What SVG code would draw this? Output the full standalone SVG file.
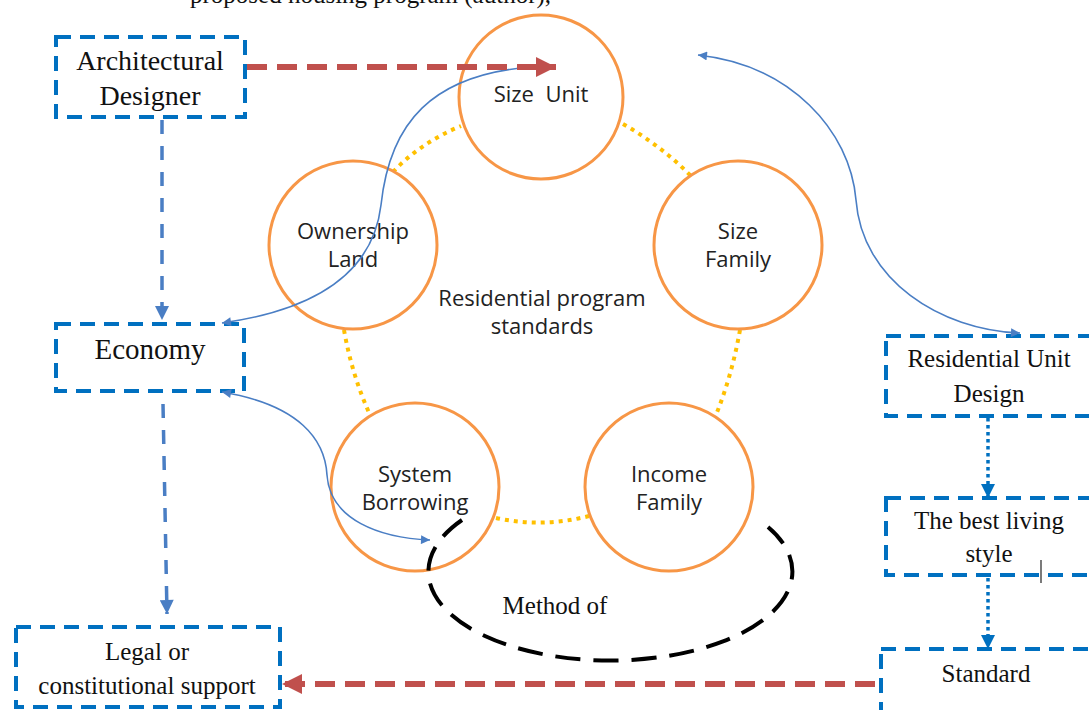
<svg xmlns="http://www.w3.org/2000/svg" width="1089" height="710" viewBox="0 0 1089 710">
<style>
.box{fill:none;stroke:#0070C0;stroke-width:4;stroke-dasharray:15 9}
.serif{font-family:"Liberation Serif","Times New Roman",serif;fill:#111;text-anchor:middle}
.circ{fill:#fff;stroke:#F79646;stroke-width:3}
.ctext{font-family:"Open Sans","Liberation Sans",sans-serif;font-size:22px;fill:#222;text-anchor:middle}
.dot{fill:none;stroke:#FFC000;stroke-width:4;stroke-dasharray:4 5}
.thin{fill:none;stroke:#4A7EC4;stroke-width:1.6}
.red{fill:none;stroke:#C0504D;stroke-width:6;stroke-dasharray:20 10}
.bdash{fill:none;stroke:#4A7EC4;stroke-width:3.5;stroke-dasharray:14 12}
.bdot{fill:none;stroke:#0070C0;stroke-width:3.5;stroke-dasharray:3.5 3.5}
</style>
<defs>
<marker id="hb" viewBox="0 0 10 10" refX="10" refY="5" markerWidth="10" markerHeight="9" markerUnits="userSpaceOnUse" orient="auto-start-reverse">
<path d="M0 0L10 5L0 10z" fill="#4A7EC4"/></marker>
<marker id="hbb" viewBox="0 0 10 10" refX="10" refY="5" markerWidth="16" markerHeight="14" markerUnits="userSpaceOnUse" orient="auto">
<path d="M0 0L10 5L0 10z" fill="#4A7EC4"/></marker>
<marker id="hd" viewBox="0 0 10 10" refX="10" refY="5" markerWidth="14" markerHeight="14" markerUnits="userSpaceOnUse" orient="auto">
<path d="M0 0L10 5L0 10z" fill="#0070C0"/></marker>
<marker id="hr" viewBox="0 0 10 10" refX="10" refY="5" markerWidth="22" markerHeight="20" markerUnits="userSpaceOnUse" orient="auto">
<path d="M0 0L10 5L0 10z" fill="#C0504D"/></marker>
</defs>
<rect width="1089" height="710" fill="#fff"/>
<text x="190" y="3" font-family="Liberation Serif, serif" font-size="25" fill="#111">proposed housing program (author),</text>

<g id="cycle-links">
<path class="dot" d="M393 172 Q420 143 461 126"/>
<path class="dot" d="M623 124 Q660 145 690 175"/>
<path class="dot" d="M344 330 Q352 375 370 415"/>
<path class="dot" d="M740 330 Q732 375 716 415"/>
<path class="dot" d="M496 518 Q543 528 589 516"/>
</g>

<g id="size-unit"><circle class="circ" cx="541" cy="97" r="82"/><text class="ctext" x="541" y="102" xml:space="preserve">Size  Unit</text></g>
<g id="ownership-land"><circle class="circ" cx="353" cy="245" r="84"/><text class="ctext" x="353" y="239">Ownership</text><text class="ctext" x="353" y="267">Land</text></g>
<g id="size-family"><circle class="circ" cx="738" cy="245" r="84"/><text class="ctext" x="738" y="239">Size</text><text class="ctext" x="738" y="267">Family</text></g>
<g id="system-borrowing"><circle class="circ" cx="415" cy="487" r="84"/><text class="ctext" x="415" y="482">System</text><text class="ctext" x="415" y="510">Borrowing</text></g>
<g id="income-family"><circle class="circ" cx="669" cy="487" r="84"/><text class="ctext" x="669" y="482">Income</text><text class="ctext" x="669" y="510">Family</text></g>
<g id="center-label"><text class="ctext" x="542" y="306">Residential program</text><text class="ctext" x="542" y="334">standards</text></g>

<g id="method-of">
<path d="M462 520 A182 89 0 1 0 768 527" fill="none" stroke="#000" stroke-width="4" stroke-dasharray="25 13"/>
<text class="serif" x="555" y="614" font-size="25">Method of</text>
</g>

<g id="architectural-designer"><rect class="box" x="56" y="37" width="189" height="80"/><text class="serif" x="150" y="70" font-size="28">Architectural</text><text class="serif" x="150" y="105" font-size="28">Designer</text></g>
<g id="economy"><rect class="box" x="56" y="324" width="188" height="67"/><text class="serif" x="150" y="359" font-size="29">Economy</text></g>
<g id="legal"><rect class="box" x="16" y="627" width="264" height="80"/><text class="serif" x="147" y="660" font-size="25">Legal or</text><text class="serif" x="147" y="694" font-size="25">constitutional support</text></g>
<g id="residential-unit-design"><rect class="box" x="886" y="336" width="230" height="80"/><text class="serif" x="989" y="367" font-size="25">Residential Unit</text><text class="serif" x="989" y="402" font-size="25">Design</text></g>
<g id="best-living-style"><rect class="box" x="886" y="498" width="230" height="77"/><text class="serif" x="989" y="529" font-size="25">The best living</text><text class="serif" x="989" y="562" font-size="25">style</text></g>
<g id="standard"><rect class="box" x="881" y="649" width="230" height="80"/><text class="serif" x="986" y="682" font-size="25">Standard</text></g>
<line x1="1041" y1="560" x2="1041" y2="583" stroke="#333" stroke-width="1.3"/>

<g id="connectors">
<path class="thin" d="M222 323 C300 312 372 282 381 205 C389 130 425 68 553 66" marker-start="url(#hb)" marker-end="url(#hb)"/>
<path class="thin" d="M698 55 C790 65 850 130 856 200 C862 280 940 330 1020 333" marker-start="url(#hb)" marker-end="url(#hb)"/>
<path class="thin" d="M222 392 C300 405 325 440 327 475 C330 520 380 538 430 540" marker-start="url(#hb)" marker-end="url(#hb)"/>
<path class="red" d="M247 67 L556 67" marker-end="url(#hr)"/>
<path class="red" d="M875 684 L282 684" marker-end="url(#hr)"/>
<path class="bdash" d="M162 120 L162 320" marker-end="url(#hbb)"/>
<path class="bdash" d="M163 404 L167 614" marker-end="url(#hbb)"/>
<path class="bdot" d="M988 418 L988 498" marker-end="url(#hd)"/>
<path class="bdot" d="M988 578 L988 649" marker-end="url(#hd)"/>
</g>
</svg>
